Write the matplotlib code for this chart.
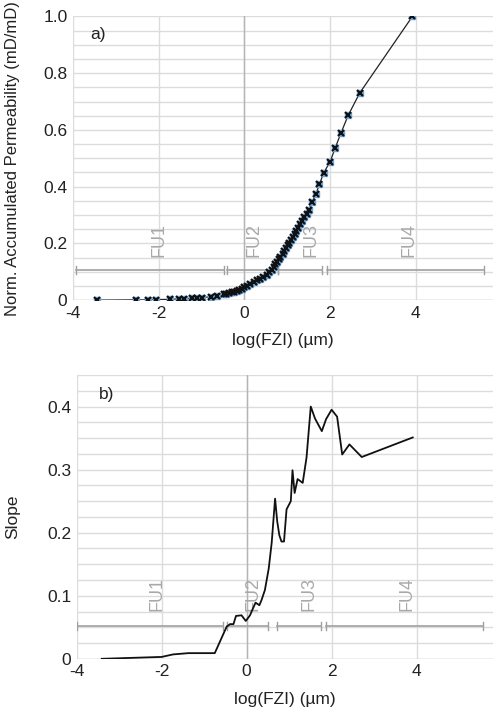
#!/usr/bin/env python3

import matplotlib.pyplot as plt
from matplotlib.ticker import MultipleLocator, FuncFormatter

plt.rcParams["font.family"] = ["Liberation Sans", "DejaVu Sans"]

# panel a) normalised accumulated permeability
fzi_a = [-3.43, -2.54, -2.25, -2.06, -1.73, -1.52, -1.41, -1.23, -1.10, -1.00,
         -0.78, -0.64, -0.48, -0.42, -0.36, -0.30, -0.24, -0.18, -0.12, -0.06,
         0.00, 0.05, 0.14, 0.22, 0.30, 0.37, 0.44, 0.52, 0.58, 0.64,
         0.68, 0.72, 0.76, 0.80, 0.84, 0.89, 0.93, 0.97, 1.01, 1.05,
         1.09, 1.13, 1.17, 1.21, 1.26, 1.30, 1.35, 1.40, 1.45, 1.50,
         1.58, 1.67, 1.75, 1.85, 2.00, 2.12, 2.25, 2.42, 2.69, 3.92]
perm_a = [0.0, 0.001, 0.001, 0.002, 0.003, 0.005, 0.005, 0.007, 0.008, 0.009,
          0.012, 0.014, 0.020, 0.023, 0.025, 0.028, 0.030, 0.033, 0.037, 0.041,
          0.046, 0.051, 0.058, 0.064, 0.070, 0.076, 0.083, 0.090, 0.098, 0.108,
          0.117, 0.126, 0.135, 0.144, 0.153, 0.163, 0.173, 0.183, 0.193, 0.203,
          0.213, 0.223, 0.233, 0.244, 0.256, 0.267, 0.279, 0.292, 0.305, 0.318,
          0.345, 0.375, 0.408, 0.449, 0.488, 0.537, 0.588, 0.651, 0.730, 1.0]

# panel b) slope
fzi_b = [-3.41, -2.0, -1.73, -1.37, -0.75, -0.47, -0.39, -0.31, -0.25, -0.12,
         -0.02, 0.08, 0.13, 0.21, 0.30, 0.35, 0.43, 0.52, 0.59, 0.67,
         0.72, 0.77, 0.82, 0.88, 0.94, 1.04, 1.08, 1.13, 1.20, 1.32,
         1.41, 1.51, 1.61, 1.77, 1.87, 2.00, 2.13, 2.25, 2.42, 2.71, 3.91]
slope_b = [0.0, 0.003, 0.007, 0.009, 0.009, 0.051, 0.055, 0.055, 0.068, 0.069,
           0.060, 0.069, 0.077, 0.089, 0.085, 0.093, 0.109, 0.143, 0.184, 0.254,
           0.218, 0.196, 0.186, 0.186, 0.237, 0.250, 0.299, 0.263, 0.285, 0.279,
           0.319, 0.400, 0.381, 0.361, 0.380, 0.395, 0.384, 0.324, 0.340, 0.320, 0.351]

fu_names = ["FU1", "FU2", "FU3", "FU4"]
fu_a_ranges = [(-3.93, -0.47), (-0.40, 0.79), (0.79, 1.80), (1.92, 5.6)]
fu_a_label_x = [-2.0, 0.23, 1.55, 3.85]
fu_b_ranges = [(-4.0, -0.56), (-0.47, 0.51), (0.72, 1.76), (1.87, 5.57)]
fu_b_label_x = [-2.12, 0.16, 1.47, 3.78]

grid_col = "#dcdcdc"
fu_col = "#a0a0a0"
text_col = "#222222"

fig = plt.figure(figsize=(4.93, 7.13), dpi=100)
ax_a = fig.add_axes([0.148, 0.579, 0.852, 0.398])
ax_b = fig.add_axes([0.1556, 0.076, 0.8444, 0.398])


def style_axes(ax, ymax, ymajor, yminor):
    ax.set_xlim(-4, 5.8)
    ax.set_ylim(0, ymax)
    ax.xaxis.set_major_locator(MultipleLocator(2))
    ax.yaxis.set_major_locator(MultipleLocator(ymajor))
    ax.yaxis.set_minor_locator(MultipleLocator(yminor))
    ax.yaxis.set_major_formatter(
        FuncFormatter(lambda v, p: "0" if abs(v) < 1e-9 else "%.1f" % v))
    ax.xaxis.set_major_formatter(FuncFormatter(lambda v, p: "%d" % v))
    ax.grid(True, which="major", color=grid_col, linewidth=1.0)
    ax.grid(True, which="minor", axis="y", color=grid_col, linewidth=1.0)
    ax.set_axisbelow(True)
    for s in ax.spines.values():
        s.set_visible(False)
    ax.tick_params(which="both", length=0, labelsize=12.5, colors=text_col, pad=4)
    ax.axvline(0, color="#b4b4b4", linewidth=1.0, zorder=1)
    ax.axhline(0, color="#c8c8c8", linewidth=1.0, zorder=1)
    ax.set_xlabel("log(FZI) (\u00b5m)", fontsize=12.5, color=text_col, labelpad=9)


def fu_bars(ax, ranges, label_x, y_bar, y_text, cap):
    for (x0, x1), lx, name in zip(ranges, label_x, fu_names):
        ax.plot([x0, x1], [y_bar, y_bar], color=fu_col, linewidth=1.2, zorder=2)
        ax.plot([x0, x0], [y_bar - cap, y_bar + cap], color=fu_col, linewidth=1.0, zorder=2)
        ax.plot([x1, x1], [y_bar - cap, y_bar + cap], color=fu_col, linewidth=1.0, zorder=2)
        ax.text(lx, y_text, name, rotation=90, ha="center", va="bottom",
                fontsize=13, color="#a8a8a8", zorder=2)


style_axes(ax_a, 1.0, 0.2, 0.05)
style_axes(ax_b, 0.45, 0.1, 0.025)

fu_bars(ax_a, fu_a_ranges, fu_a_label_x, 0.105, 0.153, 0.014)
fu_bars(ax_b, fu_b_ranges, fu_b_label_x, 0.052, 0.076, 0.006)

ax_a.plot(fzi_a, perm_a, color="#222222", linewidth=0.9, zorder=3)
ax_a.plot(fzi_a, perm_a, linestyle="none", marker="s", markersize=5,
          markerfacecolor="#6fa8dc", markeredgecolor="#6fa8dc", zorder=4)
ax_a.plot(fzi_a, perm_a, linestyle="none", marker="x", markersize=4.5,
          markeredgewidth=1.6, color="#111111", zorder=5)
ax_a.set_ylabel("Norm. Accumulated Permeability (mD/mD)", fontsize=12,
                color=text_col)
ax_a.yaxis.set_label_coords(-0.126, 0.5)
ax_a.text(-3.6, 0.92, "a)", fontsize=12.5, color=text_col)

ax_b.plot(fzi_b, slope_b, color="#111111", linewidth=1.3, zorder=3)
ax_b.set_ylabel("Slope", fontsize=12.5, color=text_col)
ax_b.yaxis.set_label_coords(-0.136, 0.5)
ax_b.text(-3.47, 0.412, "b)", fontsize=12.5, color=text_col)

fig.savefig("out.png", dpi=100)
